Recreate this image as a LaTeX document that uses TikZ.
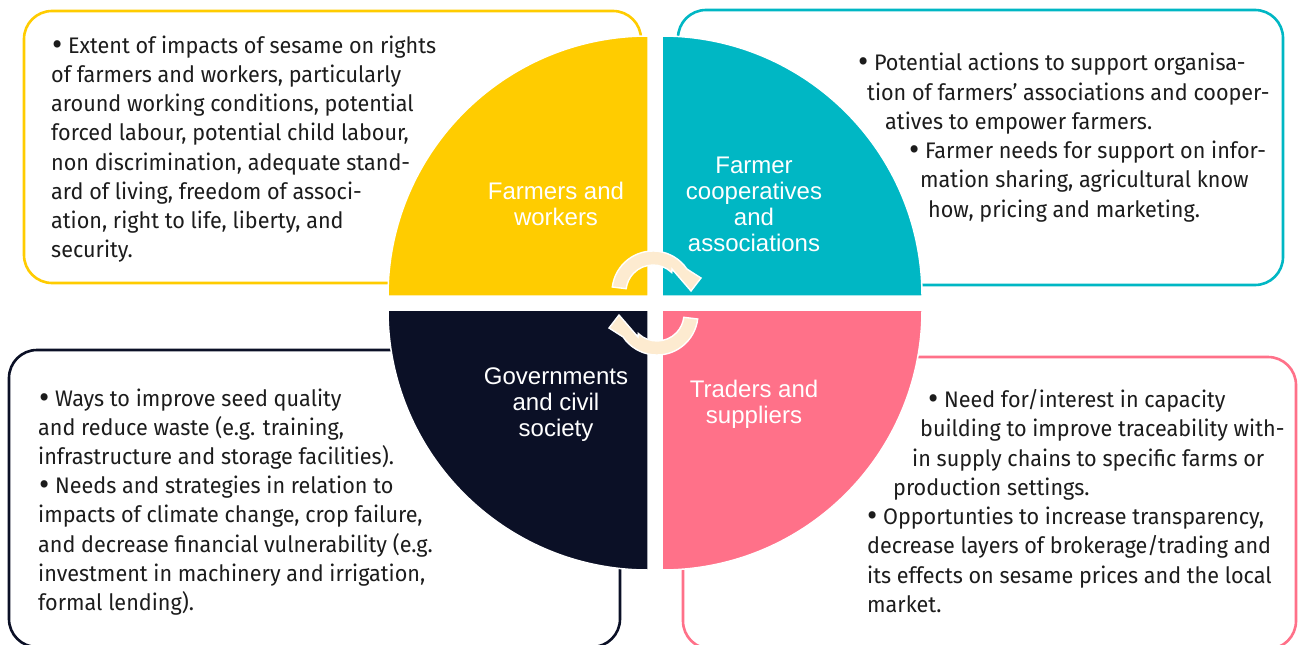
\documentclass[tikz,border=0pt]{standalone}
\usepackage{fontspec}
\newfontfamily\bodyfont{Fira Sans}[FakeStretch=0.96]
\newfontfamily\labelfont{Liberation Sans}
\definecolor{qYellow}{HTML}{FFCC00}
\definecolor{qCyan}{HTML}{00B7C4}
\definecolor{qNavy}{HTML}{0B1026}
\definecolor{qPink}{HTML}{FF7189}
\definecolor{qCream}{HTML}{FDEBD0}
\definecolor{ink}{HTML}{1C1C1C}
% a slightly enlarged list bullet
\newcommand\blt{\raisebox{-2.2pt}{\scalebox{1.45}{•}}}
\begin{document}
\begin{tikzpicture}[x=1pt,y=-1pt,
  infobox/.style={line width=2.6pt, rounded corners=28pt},
  quadrant/.style={draw=white, line width=1.5pt},
  body/.style={anchor=base west, inner sep=0pt, text=ink,
    font=\bodyfont\fontsize{22.5}{26}\selectfont},
  qlabel/.style={anchor=base, inner sep=0pt, text=white,
    font=\labelfont\fontsize{24}{26}\selectfont},
  cyclearrow/.style={fill=qCream, draw=white, line width=1.4pt, line join=miter}
]
\useasboundingbox (0,0) rectangle (1301,645);
\fill[white] (0,0) rectangle (1301,645);

% outlined boxes behind the circle
\draw[infobox, draw=qYellow] (24,11) rectangle (641,283);
\draw[infobox, draw=qCyan]   (678,10) rectangle (1283,285);
\draw[infobox, draw=qNavy]   (9,350) rectangle (620,647);
\draw[infobox, draw=qPink]   (683,357) rectangle (1296,649);

% the four quadrants of the central disc
\path[quadrant, fill=qYellow] (648,296) -- (388,296) arc[start angle=180, end angle=270, radius=260] -- cycle;
\path[quadrant, fill=qCyan]   (662,296) -- (662,36) arc[start angle=270, end angle=360, radius=260] -- cycle;
\path[quadrant, fill=qPink]   (662,310) -- (922,310) arc[start angle=0, end angle=90, radius=260] -- cycle;
\path[quadrant, fill=qNavy]   (648,310) -- (648,570) arc[start angle=90, end angle=180, radius=260] -- cycle;

% circular arrows in the middle
\begin{scope}[shift={(653,292)}]
  \path[cyclearrow] (187:41) arc[start angle=187, end angle=326, radius=41]
    -- (48,-14) -- (38,-1) -- (19,-23) -- (314:27)
    arc[start angle=314, end angle=187, radius=27] -- cycle;
\end{scope}
\begin{scope}[shift={(657,314)}, rotate=180]
  \path[cyclearrow] (187:41) arc[start angle=187, end angle=326, radius=41]
    -- (48,-14) -- (38,-1) -- (19,-23) -- (314:27)
    arc[start angle=314, end angle=187, radius=27] -- cycle;
\end{scope}

% quadrant titles
\node[qlabel] (fw1) at (556,199.5) {Farmers and};
\node[qlabel] (fw2) at (556,225.5) {workers};
\node[qlabel] (fc1) at (754,173) {Farmer};
\node[qlabel] (fc2) at (754,199) {cooperatives};
\node[qlabel] (fc3) at (754,225) {and};
\node[qlabel] (fc4) at (754,251) {associations};
\node[qlabel] (gc1) at (556,384) {Governments};
\node[qlabel] (gc2) at (556,410) {and civil};
\node[qlabel] (gc3) at (556,436) {society};
\node[qlabel] (ts1) at (754,397) {Traders and};
\node[qlabel] (ts2) at (754,423) {suppliers};

% farmers and workers
\node[body] (y1) at (52,53.5)  {\blt\ Extent of impacts of sesame on rights};
\node[body] (y2) at (51,82.6)  {of farmers and workers, particularly};
\node[body] (y3) at (51,111.8) {around working conditions, potential};
\node[body] (y4) at (51,140.9) {forced labour, potential child labour,};
\node[body] (y5) at (51,170.1) {non discrimination, adequate stand-};
\node[body] (y6) at (51,199.2) {ard of living, freedom of associ-};
\node[body] (y7) at (51,228.4) {ation, right to life, liberty, and};
\node[body] (y8) at (51,257.5) {security.};

% cooperatives and associations
\node[body] (c1) at (858,70.7)  {\blt\ Potential actions to support organisa-};
\node[body] (c2) at (867,100)   {tion of farmers’ associations and cooper-};
\node[body] (c3) at (885,129.3) {atives to empower farmers.};
\node[body] (c4) at (909,158.6) {\blt\ Farmer needs for support on infor-};
\node[body] (c5) at (920,187.9) {mation sharing, agricultural know};
\node[body] (c6) at (928,217.2) {how, pricing and marketing.};

% governments and civil society
\node[body] (g1) at (39,406)   {\blt\ Ways to improve seed quality};
\node[body] (g2) at (38,435.2) {and reduce waste (e.g. training,};
\node[body] (g3) at (38,464.4) {infrastructure and storage facilities).};
\node[body] (g4) at (39,493.6) {\blt\ Needs and strategies in relation to};
\node[body] (g5) at (38,522.8) {impacts of climate change, crop failure,};
\node[body] (g6) at (38,552)   {and decrease financial vulnerability (e.g.};
\node[body] (g7) at (38,581.2) {investment in machinery and irrigation,};
\node[body] (g8) at (38,610.4) {formal lending).};

% traders and suppliers
\node[body] (t1) at (928,407)   {\blt\ Need for/interest in capacity};
\node[body] (t2) at (920,436.5) {building to improve traceability with-};
\node[body] (t3) at (912,466)   {in supply chains to specific farms or};
\node[body] (t4) at (893,495)   {production settings.};
\node[body] (t5) at (867,524.5) {\blt\ Opportunties to increase transparency,};
\node[body] (t6) at (867,553.5) {decrease layers of brokerage/trading and};
\node[body] (t7) at (867,583)   {its effects on sesame prices and the local};
\node[body] (t8) at (867,612)   {market.};
\end{tikzpicture}
\end{document}
